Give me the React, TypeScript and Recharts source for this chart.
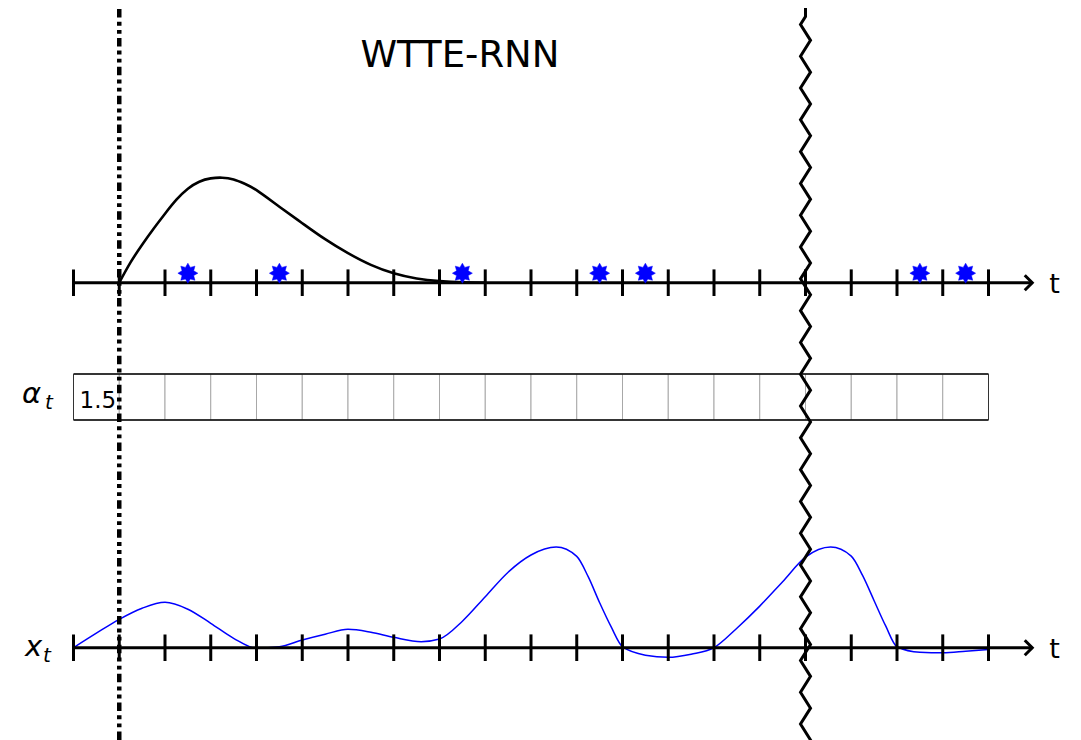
import React from 'react';
import { ComposedChart, XAxis, YAxis, Line, Scatter, ReferenceLine, ReferenceArea } from 'recharts';

const W = 1081;
const H = 740;

// ---------- data ----------
const tickTimes = [0, 1, 2, 3, 4, 5, 6, 7, 8, 9, 10, 11, 12, 13, 14, 15, 16, 17, 18, 19, 20];
const cellStarts = [0, 1, 2, 3, 4, 5, 6, 7, 8, 9, 10, 11, 12, 13, 14, 15, 16, 17, 18, 19];
const eventTimes = [2.5, 4.5, 8.5, 11.5, 12.5, 18.5, 19.5];
const censorTime = 1;
const breakTime = 16;
const axisEndTime = 21;
const alphaTime = 0.5;
const alphaText = '1.5';

const pdfTimes = [1, 1.25, 1.5, 1.75, 2, 2.25, 2.5, 2.75, 3, 3.25, 3.5, 3.75, 4, 4.5, 5, 5.5, 6, 6.5, 7, 7.5, 8, 8.5, 9];
const pdfValues = [0, 20.5, 38, 54, 69, 83, 94, 101, 104.3, 105, 103.2, 98.8, 92.5, 76, 59.5, 43.5, 29.5, 17.8, 9.4, 4.2, 1.6, 0.4, 0];

const xtTimes = [0, 0.5, 1, 1.5, 2, 2.5, 3, 3.5, 4, 4.5, 5, 5.5, 6, 6.5, 7, 7.6, 8, 8.5, 9, 9.5, 10, 10.55, 11, 11.25, 11.5, 11.75, 12, 12.5, 13, 13.5, 14, 14.5, 15, 15.5, 16, 16.55, 17, 17.25, 17.5, 17.75, 18, 18.5, 19, 19.5, 20];
const xtValues = [0, 14.5, 28.4, 39.5, 45.4, 38.5, 24.4, 9.4, -0.5, 1, 7.7, 13.5, 18.4, 15.5, 10.4, 6, 8.7, 26.5, 51, 75.5, 92.7, 100.6, 91.3, 71, 45, 21, 1, -7.5, -9.6, -6.5, 0, 19.5, 41.6, 66, 90.5, 100.6, 91.6, 72, 47, 22, 1, -4.5, -5, -3.5, -1.7];

const pdfData = pdfTimes.map((t, i) => ({ t, v: pdfValues[i] }));
const xtData = xtTimes.map((t, i) => ({ t, v: xtValues[i] }));
const tickData = tickTimes.map((t) => ({ t, v: 0 }));
const eventData = eventTimes.map((t) => ({ t, v: 0 }));
const alphaData = [{ t: alphaTime, v: 0.5, label: alphaText }];

const FONT = '"DejaVu Sans", Verdana, sans-serif';

// ---------- shapes ----------
const TickShape = (p: any) => (
  <line x1={p.cx} y1={p.cy - 13.3} x2={p.cx} y2={p.cy + 13.3} stroke="#000" strokeWidth={3} />
);

const StarShape = (p: any) => {
  const cx = p.cx;
  const cy = p.cy - 9.5;
  const ro = 10;
  const ri = 6.3;
  const pts: string[] = [];
  for (let k = 0; k < 16; k++) {
    const r = k % 2 === 0 ? ro : ri;
    const a = -Math.PI / 2 + (k * Math.PI) / 8;
    pts.push(`${cx + r * Math.cos(a)},${cy + r * Math.sin(a)}`);
  }
  return <polygon points={pts.join(' ')} fill="#0000ff" stroke="#0000ff" strokeWidth={0.5} />;
};

const AlphaTextShape = (p: any) => (
  <text x={p.cx + 1.5} y={p.cy + 10.5} textAnchor="middle" fontSize={23} fontFamily={FONT} fill="#000">
    {p.payload?.label ?? alphaText}
  </text>
);

const AxisShape = (p: any) => {
  const xa = Math.min(p.x1, p.x2);
  const xb = Math.max(p.x1, p.x2);
  const y = p.y1;
  return (
    <g>
      <line x1={xa - 1.5} y1={y} x2={xb - 2} y2={y} stroke="#000" strokeWidth={3} />
      <polyline
        points={`${xb - 9.5},${y - 7.5} ${xb - 2},${y} ${xb - 9.5},${y + 7.5}`}
        fill="none"
        stroke="#000"
        strokeWidth={3}
      />
      <text x={xb + 15} y={y + 10.6} fontSize={27} fontFamily={FONT} fill="#000">
        t
      </text>
    </g>
  );
};

const ZigZagShape = (p: any) => {
  const x = p.x1;
  const top = Math.min(p.y1, p.y2);
  const bottom = Math.max(p.y1, p.y2);
  const amp = 5;
  const half = 15.9;
  let d = `M${x},${top} L${x},${top + 8.5}`;
  let y = top + 8.5 + half / 2;
  let side = -1;
  while (y < bottom) {
    d += ` L${x + side * amp},${y}`;
    side = -side;
    y += half;
  }
  const frac = (bottom - (y - half)) / half;
  d += ` L${x - side * amp + side * 2 * amp * frac},${bottom}`;
  return <path d={d} fill="none" stroke="#000" strokeWidth={3} strokeLinejoin="miter" />;
};

// ---------- app ----------
export default function App() {
  return (
    <div style={{ position: 'absolute', left: 0, top: 0, width: W, height: H, background: '#fff' }}>
      <ComposedChart width={W} height={H} margin={{ top: 8, right: 1, bottom: 0, left: 27.75 }}>
        <XAxis dataKey="t" type="number" domain={[-1, 22]} allowDataOverflow hide />
        <YAxis yAxisId="top" dataKey="v" type="number" domain={[-457.3, 274.7]} allowDataOverflow hide />
        <YAxis yAxisId="mid" dataKey="v" type="number" domain={[-6.9565, 8.9565]} allowDataOverflow hide />
        <YAxis yAxisId="bot" dataKey="v" type="number" domain={[-92.3, 639.7]} allowDataOverflow hide />

        {/* alpha row */}
        {cellStarts.map((s) => (
          <ReferenceArea
            key={`cell-${s}`}
            x1={s}
            x2={s + 1}
            y1={0}
            y2={1}
            yAxisId="mid"
            fill="#ffffff"
            fillOpacity={1}
            stroke="#a8a8a8"
            strokeWidth={1}
            zIndex={100}
          />
        ))}
        <ReferenceLine yAxisId="mid" segment={[{ x: 0, y: 1 }, { x: 20, y: 1 }]} stroke="#000" strokeWidth={1.5} zIndex={110} />
        <ReferenceLine yAxisId="mid" segment={[{ x: 0, y: 0 }, { x: 20, y: 0 }]} stroke="#000" strokeWidth={1.5} zIndex={110} />
        <ReferenceLine yAxisId="mid" segment={[{ x: 0, y: 0 }, { x: 0, y: 1 }]} stroke="#333" strokeWidth={1} zIndex={110} />
        <ReferenceLine yAxisId="mid" segment={[{ x: 20, y: 0 }, { x: 20, y: 1 }]} stroke="#333" strokeWidth={1} zIndex={110} />
        <Scatter yAxisId="mid" data={alphaData} shape={AlphaTextShape} isAnimationActive={false} zIndex={120} />

        {/* curves */}
        <Line
          yAxisId="top"
          data={pdfData}
          dataKey="v"
          type="natural"
          stroke="#000"
          strokeWidth={2.6}
          dot={false}
          activeDot={false}
          isAnimationActive={false}
          zIndex={200}
        />
        <Line
          yAxisId="bot"
          data={xtData}
          dataKey="v"
          type="monotone"
          stroke="#0000ff"
          strokeWidth={1.5}
          dot={false}
          activeDot={false}
          isAnimationActive={false}
          zIndex={200}
        />

        {/* time axes */}
        <ReferenceLine yAxisId="top" segment={[{ x: 0, y: 0 }, { x: axisEndTime, y: 0 }]} shape={AxisShape} zIndex={300} />
        <ReferenceLine yAxisId="bot" segment={[{ x: 0, y: 0 }, { x: axisEndTime, y: 0 }]} shape={AxisShape} zIndex={300} />
        <Scatter yAxisId="top" data={tickData} shape={TickShape} isAnimationActive={false} zIndex={310} />
        <Scatter yAxisId="bot" data={tickData} shape={TickShape} isAnimationActive={false} zIndex={310} />
        <Scatter yAxisId="top" data={eventData} shape={StarShape} isAnimationActive={false} zIndex={320} />

        {/* censoring line and break */}
        <ReferenceLine
          yAxisId="top"
          x={censorTime}
          stroke="#000"
          strokeWidth={4.5}
          strokeDasharray="8.5 4.2 3.8 4.2 4 4.2"
          zIndex={400}
        />
        <ReferenceLine yAxisId="top" x={breakTime} shape={ZigZagShape} zIndex={410} />
      </ComposedChart>

      <svg width={W} height={H} style={{ position: 'absolute', left: 0, top: 0, pointerEvents: 'none' }}>
        <text x={460} y={67} textAnchor="middle" fontSize={37} fontFamily={FONT} fill="#000">
          WTTE-RNN
        </text>
        <text x={22} y={403} fontSize={29} fontStyle="italic" fontFamily={FONT} fill="#000">
          α
        </text>
        <text x={45} y={409} fontSize={20} fontStyle="italic" fontFamily={FONT} fill="#000">
          t
        </text>
        <text x={25} y={656} fontSize={29} fontStyle="italic" fontFamily={FONT} fill="#000">
          x
        </text>
        <text x={43} y={662} fontSize={20} fontStyle="italic" fontFamily={FONT} fill="#000">
          t
        </text>
      </svg>
    </div>
  );
}
